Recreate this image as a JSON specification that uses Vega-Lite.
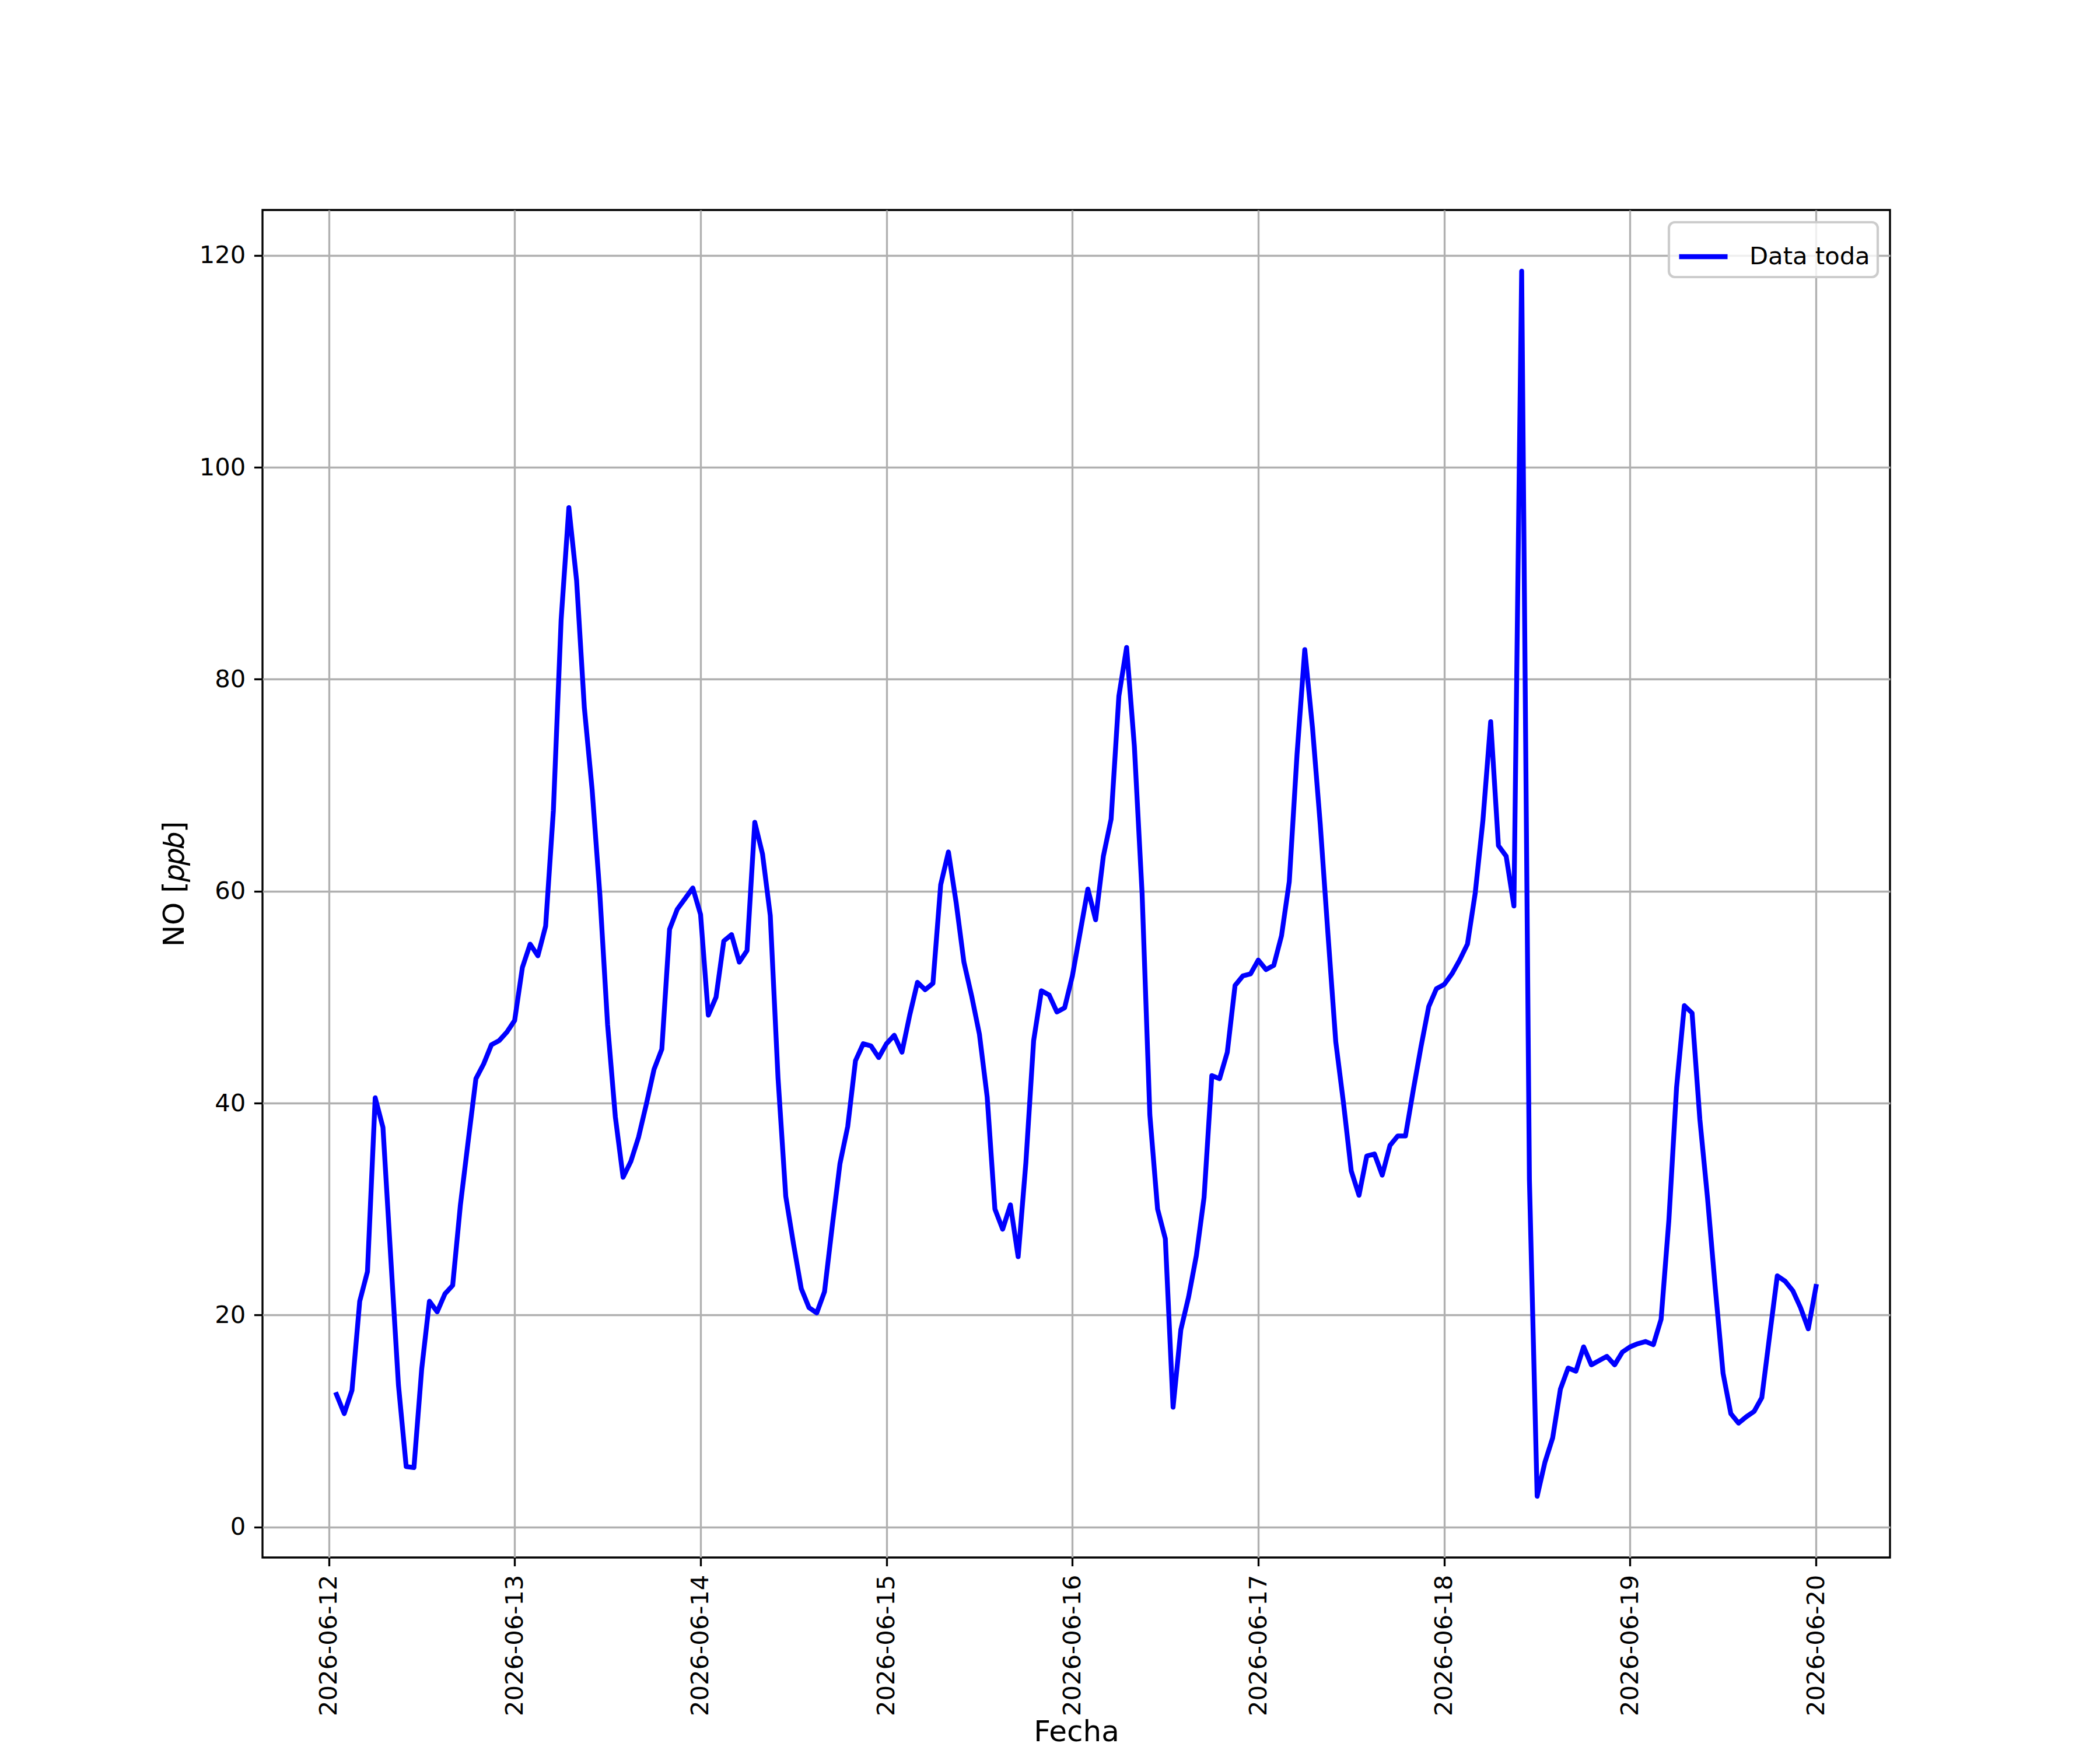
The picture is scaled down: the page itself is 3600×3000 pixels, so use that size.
{
  "$schema": "https://vega.github.io/schema/vega-lite/v6.json",
  "width": 2790,
  "height": 2310,
  "autosize": {"type": "none"},
  "padding": {"left": 450, "top": 360, "right": 360, "bottom": 330},
  "background": "white",
  "data": {
    "values": [
      {"Fecha": "2026-06-12T01:00Z", "NO": 12.5}, {"Fecha": "2026-06-12T02:00Z", "NO": 10.7},
      {"Fecha": "2026-06-12T03:00Z", "NO": 12.9}, {"Fecha": "2026-06-12T04:00Z", "NO": 21.3},
      {"Fecha": "2026-06-12T05:00Z", "NO": 24.1}, {"Fecha": "2026-06-12T06:00Z", "NO": 40.5},
      {"Fecha": "2026-06-12T07:00Z", "NO": 37.7}, {"Fecha": "2026-06-12T08:00Z", "NO": 25.5},
      {"Fecha": "2026-06-12T09:00Z", "NO": 13.4}, {"Fecha": "2026-06-12T10:00Z", "NO": 5.7},
      {"Fecha": "2026-06-12T11:00Z", "NO": 5.6}, {"Fecha": "2026-06-12T12:00Z", "NO": 14.9},
      {"Fecha": "2026-06-12T13:00Z", "NO": 21.3}, {"Fecha": "2026-06-12T14:00Z", "NO": 20.3},
      {"Fecha": "2026-06-12T15:00Z", "NO": 22.0}, {"Fecha": "2026-06-12T16:00Z", "NO": 22.8},
      {"Fecha": "2026-06-12T17:00Z", "NO": 30.4}, {"Fecha": "2026-06-12T18:00Z", "NO": 36.4},
      {"Fecha": "2026-06-12T19:00Z", "NO": 42.3}, {"Fecha": "2026-06-12T20:00Z", "NO": 43.7},
      {"Fecha": "2026-06-12T21:00Z", "NO": 45.5}, {"Fecha": "2026-06-12T22:00Z", "NO": 45.9},
      {"Fecha": "2026-06-12T23:00Z", "NO": 46.7}, {"Fecha": "2026-06-13T00:00Z", "NO": 47.8},
      {"Fecha": "2026-06-13T01:00Z", "NO": 52.8}, {"Fecha": "2026-06-13T02:00Z", "NO": 55.0},
      {"Fecha": "2026-06-13T03:00Z", "NO": 53.9}, {"Fecha": "2026-06-13T04:00Z", "NO": 56.7},
      {"Fecha": "2026-06-13T05:00Z", "NO": 67.6}, {"Fecha": "2026-06-13T06:00Z", "NO": 85.6},
      {"Fecha": "2026-06-13T07:00Z", "NO": 96.2}, {"Fecha": "2026-06-13T08:00Z", "NO": 89.3},
      {"Fecha": "2026-06-13T09:00Z", "NO": 77.3}, {"Fecha": "2026-06-13T10:00Z", "NO": 69.6},
      {"Fecha": "2026-06-13T11:00Z", "NO": 59.7}, {"Fecha": "2026-06-13T12:00Z", "NO": 47.4},
      {"Fecha": "2026-06-13T13:00Z", "NO": 38.7}, {"Fecha": "2026-06-13T14:00Z", "NO": 33.0},
      {"Fecha": "2026-06-13T15:00Z", "NO": 34.5}, {"Fecha": "2026-06-13T16:00Z", "NO": 36.8},
      {"Fecha": "2026-06-13T17:00Z", "NO": 39.9}, {"Fecha": "2026-06-13T18:00Z", "NO": 43.2},
      {"Fecha": "2026-06-13T19:00Z", "NO": 45.1}, {"Fecha": "2026-06-13T20:00Z", "NO": 56.4},
      {"Fecha": "2026-06-13T21:00Z", "NO": 58.3}, {"Fecha": "2026-06-13T22:00Z", "NO": 59.3},
      {"Fecha": "2026-06-13T23:00Z", "NO": 60.3}, {"Fecha": "2026-06-14T00:00Z", "NO": 57.8},
      {"Fecha": "2026-06-14T01:00Z", "NO": 48.3}, {"Fecha": "2026-06-14T02:00Z", "NO": 50.0},
      {"Fecha": "2026-06-14T03:00Z", "NO": 55.3}, {"Fecha": "2026-06-14T04:00Z", "NO": 55.9},
      {"Fecha": "2026-06-14T05:00Z", "NO": 53.3}, {"Fecha": "2026-06-14T06:00Z", "NO": 54.4},
      {"Fecha": "2026-06-14T07:00Z", "NO": 66.5}, {"Fecha": "2026-06-14T08:00Z", "NO": 63.5},
      {"Fecha": "2026-06-14T09:00Z", "NO": 57.7}, {"Fecha": "2026-06-14T10:00Z", "NO": 42.4},
      {"Fecha": "2026-06-14T11:00Z", "NO": 31.2}, {"Fecha": "2026-06-14T12:00Z", "NO": 26.7},
      {"Fecha": "2026-06-14T13:00Z", "NO": 22.5}, {"Fecha": "2026-06-14T14:00Z", "NO": 20.7},
      {"Fecha": "2026-06-14T15:00Z", "NO": 20.2}, {"Fecha": "2026-06-14T16:00Z", "NO": 22.2},
      {"Fecha": "2026-06-14T17:00Z", "NO": 28.4}, {"Fecha": "2026-06-14T18:00Z", "NO": 34.3},
      {"Fecha": "2026-06-14T19:00Z", "NO": 37.8}, {"Fecha": "2026-06-14T20:00Z", "NO": 44.0},
      {"Fecha": "2026-06-14T21:00Z", "NO": 45.6}, {"Fecha": "2026-06-14T22:00Z", "NO": 45.4},
      {"Fecha": "2026-06-14T23:00Z", "NO": 44.3}, {"Fecha": "2026-06-15T00:00Z", "NO": 45.6},
      {"Fecha": "2026-06-15T01:00Z", "NO": 46.4}, {"Fecha": "2026-06-15T02:00Z", "NO": 44.8},
      {"Fecha": "2026-06-15T03:00Z", "NO": 48.3}, {"Fecha": "2026-06-15T04:00Z", "NO": 51.4},
      {"Fecha": "2026-06-15T05:00Z", "NO": 50.7}, {"Fecha": "2026-06-15T06:00Z", "NO": 51.3},
      {"Fecha": "2026-06-15T07:00Z", "NO": 60.6}, {"Fecha": "2026-06-15T08:00Z", "NO": 63.7},
      {"Fecha": "2026-06-15T09:00Z", "NO": 58.9}, {"Fecha": "2026-06-15T10:00Z", "NO": 53.3},
      {"Fecha": "2026-06-15T11:00Z", "NO": 50.1}, {"Fecha": "2026-06-15T12:00Z", "NO": 46.5},
      {"Fecha": "2026-06-15T13:00Z", "NO": 40.6}, {"Fecha": "2026-06-15T14:00Z", "NO": 30.0},
      {"Fecha": "2026-06-15T15:00Z", "NO": 28.1}, {"Fecha": "2026-06-15T16:00Z", "NO": 30.4},
      {"Fecha": "2026-06-15T17:00Z", "NO": 25.5}, {"Fecha": "2026-06-15T18:00Z", "NO": 34.4},
      {"Fecha": "2026-06-15T19:00Z", "NO": 45.9}, {"Fecha": "2026-06-15T20:00Z", "NO": 50.6},
      {"Fecha": "2026-06-15T21:00Z", "NO": 50.2}, {"Fecha": "2026-06-15T22:00Z", "NO": 48.6},
      {"Fecha": "2026-06-15T23:00Z", "NO": 49.0}, {"Fecha": "2026-06-16T00:00Z", "NO": 52.0},
      {"Fecha": "2026-06-16T01:00Z", "NO": 56.1}, {"Fecha": "2026-06-16T02:00Z", "NO": 60.2},
      {"Fecha": "2026-06-16T03:00Z", "NO": 57.3}, {"Fecha": "2026-06-16T04:00Z", "NO": 63.3},
      {"Fecha": "2026-06-16T05:00Z", "NO": 66.8}, {"Fecha": "2026-06-16T06:00Z", "NO": 78.4},
      {"Fecha": "2026-06-16T07:00Z", "NO": 83.0}, {"Fecha": "2026-06-16T08:00Z", "NO": 73.7},
      {"Fecha": "2026-06-16T09:00Z", "NO": 59.8}, {"Fecha": "2026-06-16T10:00Z", "NO": 38.9},
      {"Fecha": "2026-06-16T11:00Z", "NO": 30.0}, {"Fecha": "2026-06-16T12:00Z", "NO": 27.2},
      {"Fecha": "2026-06-16T13:00Z", "NO": 11.3}, {"Fecha": "2026-06-16T14:00Z", "NO": 18.6},
      {"Fecha": "2026-06-16T15:00Z", "NO": 21.7}, {"Fecha": "2026-06-16T16:00Z", "NO": 25.6},
      {"Fecha": "2026-06-16T17:00Z", "NO": 31.1}, {"Fecha": "2026-06-16T18:00Z", "NO": 42.6},
      {"Fecha": "2026-06-16T19:00Z", "NO": 42.3}, {"Fecha": "2026-06-16T20:00Z", "NO": 44.8},
      {"Fecha": "2026-06-16T21:00Z", "NO": 51.1}, {"Fecha": "2026-06-16T22:00Z", "NO": 52.0},
      {"Fecha": "2026-06-16T23:00Z", "NO": 52.2}, {"Fecha": "2026-06-17T00:00Z", "NO": 53.5},
      {"Fecha": "2026-06-17T01:00Z", "NO": 52.6}, {"Fecha": "2026-06-17T02:00Z", "NO": 53.0},
      {"Fecha": "2026-06-17T03:00Z", "NO": 55.8}, {"Fecha": "2026-06-17T04:00Z", "NO": 60.9},
      {"Fecha": "2026-06-17T05:00Z", "NO": 72.9}, {"Fecha": "2026-06-17T06:00Z", "NO": 82.8},
      {"Fecha": "2026-06-17T07:00Z", "NO": 75.4}, {"Fecha": "2026-06-17T08:00Z", "NO": 66.3},
      {"Fecha": "2026-06-17T09:00Z", "NO": 55.9}, {"Fecha": "2026-06-17T10:00Z", "NO": 45.8},
      {"Fecha": "2026-06-17T11:00Z", "NO": 40.0}, {"Fecha": "2026-06-17T12:00Z", "NO": 33.6},
      {"Fecha": "2026-06-17T13:00Z", "NO": 31.3}, {"Fecha": "2026-06-17T14:00Z", "NO": 35.0},
      {"Fecha": "2026-06-17T15:00Z", "NO": 35.2}, {"Fecha": "2026-06-17T16:00Z", "NO": 33.2},
      {"Fecha": "2026-06-17T17:00Z", "NO": 36.0}, {"Fecha": "2026-06-17T18:00Z", "NO": 36.9},
      {"Fecha": "2026-06-17T19:00Z", "NO": 36.9}, {"Fecha": "2026-06-17T20:00Z", "NO": 41.2},
      {"Fecha": "2026-06-17T21:00Z", "NO": 45.3}, {"Fecha": "2026-06-17T22:00Z", "NO": 49.1},
      {"Fecha": "2026-06-17T23:00Z", "NO": 50.8}, {"Fecha": "2026-06-18T00:00Z", "NO": 51.2},
      {"Fecha": "2026-06-18T01:00Z", "NO": 52.2}, {"Fecha": "2026-06-18T02:00Z", "NO": 53.5},
      {"Fecha": "2026-06-18T03:00Z", "NO": 55.0}, {"Fecha": "2026-06-18T04:00Z", "NO": 59.8},
      {"Fecha": "2026-06-18T05:00Z", "NO": 66.7}, {"Fecha": "2026-06-18T06:00Z", "NO": 76.0},
      {"Fecha": "2026-06-18T07:00Z", "NO": 64.3}, {"Fecha": "2026-06-18T08:00Z", "NO": 63.3},
      {"Fecha": "2026-06-18T09:00Z", "NO": 58.6}, {"Fecha": "2026-06-18T10:00Z", "NO": 118.5},
      {"Fecha": "2026-06-18T11:00Z", "NO": 32.8}, {"Fecha": "2026-06-18T12:00Z", "NO": 2.9},
      {"Fecha": "2026-06-18T13:00Z", "NO": 6.1}, {"Fecha": "2026-06-18T14:00Z", "NO": 8.4},
      {"Fecha": "2026-06-18T15:00Z", "NO": 13.0}, {"Fecha": "2026-06-18T16:00Z", "NO": 15.0},
      {"Fecha": "2026-06-18T17:00Z", "NO": 14.7}, {"Fecha": "2026-06-18T18:00Z", "NO": 17.0},
      {"Fecha": "2026-06-18T19:00Z", "NO": 15.3}, {"Fecha": "2026-06-18T20:00Z", "NO": 15.7},
      {"Fecha": "2026-06-18T21:00Z", "NO": 16.1}, {"Fecha": "2026-06-18T22:00Z", "NO": 15.3},
      {"Fecha": "2026-06-18T23:00Z", "NO": 16.5}, {"Fecha": "2026-06-19T00:00Z", "NO": 17.0},
      {"Fecha": "2026-06-19T01:00Z", "NO": 17.3}, {"Fecha": "2026-06-19T02:00Z", "NO": 17.5},
      {"Fecha": "2026-06-19T03:00Z", "NO": 17.2}, {"Fecha": "2026-06-19T04:00Z", "NO": 19.6},
      {"Fecha": "2026-06-19T05:00Z", "NO": 28.9}, {"Fecha": "2026-06-19T06:00Z", "NO": 41.5},
      {"Fecha": "2026-06-19T07:00Z", "NO": 49.2}, {"Fecha": "2026-06-19T08:00Z", "NO": 48.5},
      {"Fecha": "2026-06-19T09:00Z", "NO": 38.5}, {"Fecha": "2026-06-19T10:00Z", "NO": 31.0},
      {"Fecha": "2026-06-19T11:00Z", "NO": 22.5}, {"Fecha": "2026-06-19T12:00Z", "NO": 14.5},
      {"Fecha": "2026-06-19T13:00Z", "NO": 10.7}, {"Fecha": "2026-06-19T14:00Z", "NO": 9.8},
      {"Fecha": "2026-06-19T15:00Z", "NO": 10.4}, {"Fecha": "2026-06-19T16:00Z", "NO": 10.9},
      {"Fecha": "2026-06-19T17:00Z", "NO": 12.2}, {"Fecha": "2026-06-19T18:00Z", "NO": 18.0},
      {"Fecha": "2026-06-19T19:00Z", "NO": 23.7}, {"Fecha": "2026-06-19T20:00Z", "NO": 23.2},
      {"Fecha": "2026-06-19T21:00Z", "NO": 22.3}, {"Fecha": "2026-06-19T22:00Z", "NO": 20.7},
      {"Fecha": "2026-06-19T23:00Z", "NO": 18.7}, {"Fecha": "2026-06-20T00:00Z", "NO": 22.7}
    ]
  },
  "mark": {"type": "line", "strokeWidth": 8.3, "strokeJoin": "round", "strokeCap": "square", "clip": true},
  "encoding": {
    "x": {
      "field": "Fecha",
      "type": "temporal",
      "title": "Fecha",
      "scale": {
        "type": "utc",
        "domain": [
          {"year": 2026, "month": 6, "date": 11, "hours": 15, "minutes": 27, "utc": true},
          {"year": 2026, "month": 6, "date": 20, "hours": 9, "minutes": 33, "utc": true}
        ],
        "nice": false
      },
      "axis": {
        "values": [
          {"year": 2026, "month": 6, "date": 12, "utc": true},
          {"year": 2026, "month": 6, "date": 13, "utc": true},
          {"year": 2026, "month": 6, "date": 14, "utc": true},
          {"year": 2026, "month": 6, "date": 15, "utc": true},
          {"year": 2026, "month": 6, "date": 16, "utc": true},
          {"year": 2026, "month": 6, "date": 17, "utc": true},
          {"year": 2026, "month": 6, "date": 18, "utc": true},
          {"year": 2026, "month": 6, "date": 19, "utc": true},
          {"year": 2026, "month": 6, "date": 20, "utc": true}
        ],
        "labelExpr": "utcFormat(datum.value, '%Y-%m-%d')",
        "labelAngle": 270,
        "labelLimit": 0,
        "titleY": 274,
        "titleBaseline": "top"
      }
    },
    "y": {
      "field": "NO",
      "type": "quantitative",
      "title": "NO [𝑝𝑝𝑏]",
      "scale": {"domain": [-2.88, 124.28], "nice": false, "zero": false},
      "axis": {"values": [0, 20, 40, 60, 80, 100, 120]}
    },
    "color": {
      "datum": "Data toda",
      "type": "nominal",
      "scale": {"range": ["#0000ff"]},
      "legend": {
        "title": null,
        "orient": "top-right",
        "offset": 21,
        "padding": 13,
        "fillColor": "rgba(255,255,255,0.8)",
        "strokeColor": "#cccccc",
        "cornerRadius": 10,
        "symbolType": "stroke",
        "symbolSize": 6900,
        "symbolStrokeWidth": 8.3,
        "labelFontSize": 41.7,
        "labelFont": "DejaVu Sans",
        "labelColor": "black",
        "labelLimit": 0,
        "labelOffset": 33
      }
    }
  },
  "config": {
    "view": {"stroke": "black", "strokeWidth": 3.33},
    "axis": {
      "domain": false,
      "grid": true,
      "gridColor": "#b0b0b0",
      "gridWidth": 3.33,
      "gridOpacity": 1,
      "tickColor": "black",
      "tickSize": 14.6,
      "tickWidth": 3.33,
      "labelPadding": 14.6,
      "labelFont": "DejaVu Sans",
      "labelFontSize": 41.7,
      "labelColor": "black",
      "labelOverlap": false,
      "labelFlush": false,
      "titleFont": "DejaVu Sans",
      "titleFontSize": 50,
      "titleFontWeight": "normal",
      "titleColor": "black",
      "titlePadding": 16.7
    },
    "legend": {"strokeWidth": 4.2}
  }
}
